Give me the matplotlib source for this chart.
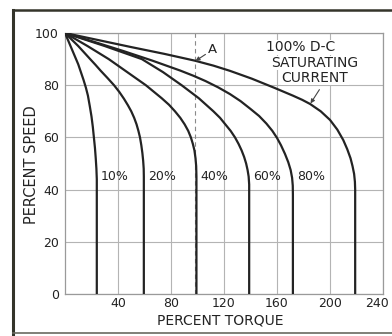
import matplotlib
matplotlib.use("Agg")
import matplotlib.pyplot as plt
from matplotlib.lines import Line2D
from matplotlib.transforms import ScaledTranslation

# speed-torque curves: (percent torque, percent speed)
torque_10 = [0, 2.5, 5, 7.5, 10, 12, 14, 15.8, 17.3, 18.7, 20, 21, 21.8, 22.6, 23.2,
             23.7, 24, 24]
speed_10 = [100, 97, 94, 91, 88, 85, 82, 79, 76, 72, 68, 64, 60, 56, 52, 48, 44, 0]

torque_20 = [0, 5, 10, 14.5, 19, 23, 27, 32, 37, 41, 44.5, 47.5, 50, 52.2, 54, 55.4,
             56.6, 57.6, 58.4, 59, 59.4, 59.5, 59.5]
speed_20 = [100, 97.5, 95, 92.5, 90, 87.8, 85.5, 82.8, 80, 77.4, 74.8, 72.3, 70, 67.5,
            65, 62.5, 60, 57, 54, 51, 48, 45, 0]

torque_40 = [0, 8.5, 17, 25, 33, 40, 47, 54, 61, 67, 73, 78.5, 83, 87, 90.3, 93, 95,
             96.5, 97.7, 98.5, 99, 99.2, 99.2]
speed_40 = [100, 97.5, 95, 92.5, 90, 87.5, 85, 82.5, 80, 77.5, 75, 72.5, 70, 67.5, 65,
            62.5, 60, 57.5, 55, 52, 49, 45, 0]

torque_60 = [0, 15, 30, 44, 58, 66, 74, 81, 88, 94.5, 101, 106.5, 112, 117, 121, 125,
             128.3, 131, 133.3, 135.2, 136.7, 137.8, 138.6, 139, 139]
speed_60 = [100, 97.5, 95, 92.5, 90, 87.5, 85, 82.5, 80, 77.5, 75, 72.5, 70, 67.5, 65,
            62.5, 60, 57.5, 55, 52.5, 50, 47.5, 45, 42, 0]

torque_80 = [0, 22, 44, 66, 87, 97, 106, 115.5, 124.5, 132.5, 140, 146.5, 152, 156.5,
             160, 163, 166, 168.5, 170.3, 171.4, 171.9, 172, 172]
speed_80 = [100, 96.6, 93.1, 89.4, 85.6, 83.6, 81.6, 79.2, 76.6, 73.9, 70.9, 68.2, 65.3,
            62.5, 59.8, 57, 53.7, 50.5, 47.5, 44.5, 41.5, 38, 0]

torque_100 = [0, 25, 50, 75, 98, 112, 124.5, 141, 158, 172, 179, 185, 193, 200, 205.5,
              210, 213, 215.5, 217, 218.2, 218.8, 219, 219]
speed_100 = [100, 97.3, 94.6, 92, 89.4, 87.5, 85.5, 82.5, 79, 76, 74.4, 72.8, 70, 66.7,
             63, 59, 55.5, 52, 49, 46, 43, 40, 0]

curves = [
    (torque_10, speed_10, "10%"),
    (torque_20, speed_20, "20%"),
    (torque_40, speed_40, "40%"),
    (torque_60, speed_60, "60%"),
    (torque_80, speed_80, "80%"),
    (torque_100, speed_100, None),
]

x_ticks = [40, 80, 120, 160, 200, 240]
y_ticks = [0, 20, 40, 60, 80, 100]
rated_torque = 98

W, H = 392, 336
fig = plt.figure(figsize=(W / 100, H / 100), dpi=100)
fig.patch.set_facecolor("white")

ax = fig.add_axes([65 / W, 42 / H, 318 / W, 261 / H])
ax.set_xlim(0, 240)
ax.set_ylim(0, 100)
ax.set_xticks(x_ticks)
ax.set_yticks(y_ticks)
ax.tick_params(length=0, labelsize=9, colors="#222222")
ax.tick_params(axis="x", pad=2.5)
ax.tick_params(axis="y", pad=4.5)
ax.grid(True, color="#b4b4b4", linewidth=0.8)
for sp in ax.spines.values():
    sp.set_color("#9a9a9a")
    sp.set_linewidth(0.9)

# last x label sits inside the page edge
last = ax.get_xticklabels()[-1]
last.set_transform(last.get_transform() + ScaledTranslation(-0.06, 0, fig.dpi_scale_trans))

# rated torque reference (point A)
ax.plot([rated_torque, rated_torque], [0, 100], color="#8a8a8a",
        linewidth=0.8, linestyle=(0, (4, 3)), zorder=2)

ink = "#232323"
for tq, sp, lab in curves:
    ax.plot(tq, sp, color=ink, linewidth=1.6, solid_capstyle="butt",
            solid_joinstyle="round", zorder=3)
    if lab:
        ax.text(tq[-1] + 3, 45, lab, fontsize=9, color=ink, ha="left", va="center")

ax.annotate("", xy=(rated_torque + 0.5, 89.3), xytext=(106, 91.8),
            arrowprops=dict(arrowstyle="-|>", color="#444444", lw=0.8,
                            mutation_scale=6, shrinkA=0, shrinkB=0))
ax.text(111.5, 93.6, "A", fontsize=9.5, color=ink, ha="center", va="center")

ax.annotate("", xy=(185.3, 73.0), xytext=(192, 78.3),
            arrowprops=dict(arrowstyle="-|>", color="#444444", lw=0.8,
                            mutation_scale=6, shrinkA=0, shrinkB=0))
box = dict(facecolor="white", edgecolor="none", pad=0.3)
ax.text(178, 94.6, "100% D-C", fontsize=10, color=ink, ha="center", va="center", bbox=box)
ax.text(188.5, 88.5, "SATURATING", fontsize=10, color=ink, ha="center", va="center", bbox=box)
ax.text(188.5, 82.8, "CURRENT", fontsize=10, color=ink, ha="center", va="center", bbox=box)

fig.text(220 / W, 1 - 320 / H, "PERCENT TORQUE", fontsize=10, color=ink,
         ha="center", va="center")
fig.text(32 / W, 1 - 165 / H, "PERCENT SPEED", fontsize=10.5, color=ink,
         ha="center", va="center", rotation=90)

# scanned page frame
frame = "#34342a"
fig.add_artist(Line2D([12.5 / W, 12.5 / W], [0, 1 - 10 / H], transform=fig.transFigure,
                      color=frame, linewidth=2.2))
fig.add_artist(Line2D([12.5 / W, 1], [1 - 10 / H, 1 - 10 / H], transform=fig.transFigure,
                      color=frame, linewidth=1.8))
fig.add_artist(Line2D([12.5 / W, 1], [3 / H, 3 / H], transform=fig.transFigure,
                      color="#6a6a60", linewidth=1.2))

fig.savefig("out.png", dpi=100, facecolor="white")
